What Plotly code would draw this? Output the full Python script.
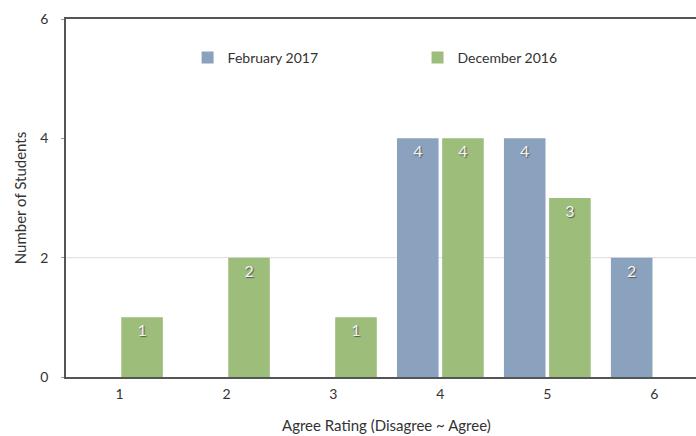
import plotly.graph_objects as go

categories = [1, 2, 3, 4, 5, 6]
feb_2017 = [0, 0, 0, 4, 4, 2]
dec_2016 = [1, 2, 1, 4, 3, 0]
series_names = ["February 2017", "December 2016"]
y_ticks = [0, 2, 4, 6]

BLUE = "#8aa2bd"
GREEN = "#9dbd7a"
FONT = "Lato, 'Open Sans', sans-serif"


def labels(vals):
    return [str(v) if v else "" for v in vals]


fig = go.Figure()
fig.add_trace(go.Bar(
    x=categories, y=feb_2017, name=series_names[0], marker_color=BLUE,
    marker_line_width=0, text=labels(feb_2017), textposition="inside",
    insidetextanchor="end", legend="legend",
    textfont=dict(color="#f2f2f2", size=16, family=FONT, shadow="1px 1px 1px #555"),
))
fig.add_trace(go.Bar(
    x=categories, y=dec_2016, name=series_names[1], marker_color=GREEN,
    marker_line_width=0, text=labels(dec_2016), textposition="inside",
    insidetextanchor="end", legend="legend2",
    textfont=dict(color="#f2f2f2", size=16, family=FONT, shadow="1px 1px 1px #555"),
))

fig.add_shape(type="line", xref="paper", x0=0, x1=1, yref="y", y0=2, y1=2,
              line=dict(color="#dddddd", width=1), layer="below")

fig.add_annotation(text="Agree Rating (Disagree ~ Agree)", xref="x", x=3.5,
                   yref="paper", y=0, yanchor="middle", yshift=-48,
                   showarrow=False, font=dict(size=15, color="#333", family=FONT))

fig.update_layout(
    width=696, height=436,
    margin=dict(l=66, r=0, t=19, b=59),
    paper_bgcolor="white", plot_bgcolor="white",
    barmode="group", bargap=0.155, bargroupgap=0.08,
    font=dict(family=FONT, color="#333", size=14),
    showlegend=True,
    legend=dict(orientation="h", x=0.193, xanchor="left", y=0.891, yanchor="middle",
                bgcolor="rgba(0,0,0,0)", font=dict(size=14, color="#333", family=FONT)),
    legend2=dict(orientation="h", x=0.558, xanchor="left", y=0.891, yanchor="middle",
                 bgcolor="rgba(0,0,0,0)", font=dict(size=14, color="#333", family=FONT)),
    xaxis=dict(range=[0.5, 6.39], tickvals=categories, ticktext=[str(c) for c in categories],
               showline=True, linecolor="#555", linewidth=1.5, mirror=True,
               showgrid=False, zeroline=False, ticks="", ticklabelstandoff=3,
               tickfont=dict(size=14, color="#333")),
    yaxis=dict(range=[0, 6], tickvals=y_ticks, showline=True, linecolor="#555",
               linewidth=1.5, showgrid=False, zeroline=False, ticks="outside",
               ticklen=3, tickcolor="#999", ticklabelstandoff=10,
               tickfont=dict(size=14, color="#333"),
               title=dict(text="Number of Students", standoff=10,
                          font=dict(size=15, color="#333"))),
)

fig.write_html("out.html", config={"displayModeBar": False},
               post_script="document.body.style.margin='0';document.body.style.overflow='hidden';")
